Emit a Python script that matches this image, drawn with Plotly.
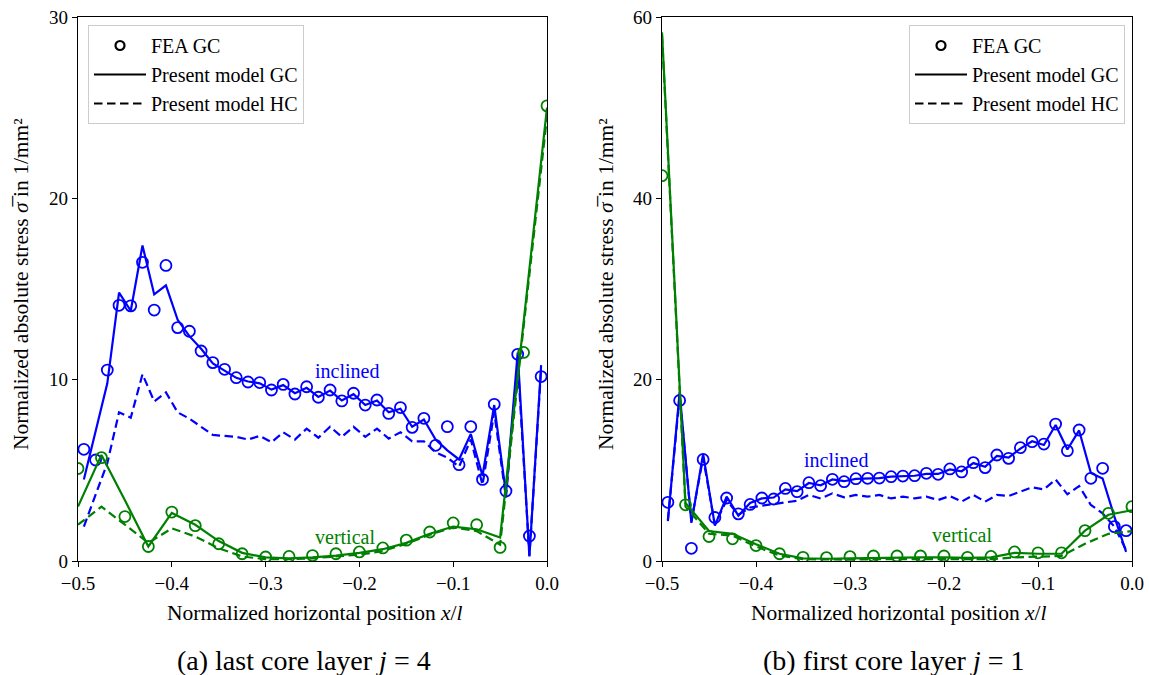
import plotly.graph_objects as go

# ---------------- data ----------------
x_fine = [-0.49375, -0.48125, -0.46875, -0.45625, -0.44375, -0.43125, -0.41875, -0.40625,
          -0.39375, -0.38125, -0.36875, -0.35625, -0.34375, -0.33125, -0.31875, -0.30625,
          -0.29375, -0.28125, -0.26875, -0.25625, -0.24375, -0.23125, -0.21875, -0.20625,
          -0.19375, -0.18125, -0.16875, -0.15625, -0.14375, -0.13125, -0.11875, -0.10625,
          -0.09375, -0.08125, -0.06875, -0.05625, -0.04375, -0.03125, -0.01875, -0.00625]
x_coarse = [-0.5, -0.475, -0.45, -0.425, -0.4, -0.375, -0.35, -0.325, -0.3, -0.275, -0.25,
            -0.225, -0.2, -0.175, -0.15, -0.125, -0.1, -0.075, -0.05, -0.025, 0.0]

# (a) last core layer j = 4
fea_inc_a = [6.16, 5.57, 10.53, 14.1, 14.07, 16.47, 13.84, 16.3, 12.87, 12.67, 11.58, 10.94,
             10.57, 10.11, 9.87, 9.84, 9.43, 9.74, 9.21, 9.61, 9.03, 9.43, 8.83, 9.25, 8.6,
             8.88, 8.14, 8.46, 7.37, 7.87, 6.38, 7.41, 5.31, 7.41, 4.5, 8.64, 3.86, 11.4, 1.38, 10.17]
gc_inc_a = [4.5, 7.1, 9.8, 14.8, 13.8, 17.4, 14.7, 15.2, 13.3, 12.4, 11.7, 10.9, 10.5, 10.1,
            9.9, 9.8, 9.45, 9.7, 9.25, 9.55, 9.05, 9.4, 8.85, 9.2, 8.6, 8.85, 8.2, 8.4, 7.4,
            7.8, 6.7, 6.1, 5.6, 7.0, 4.7, 8.6, 3.7, 11.5, 0.25, 10.8]
hc_inc_a = [1.9, 3.6, 5.4, 8.2, 7.9, 10.3, 8.8, 9.3, 8.2, 7.85, 7.4, 6.95, 6.9, 6.85, 6.7,
            6.9, 6.55, 7.1, 6.7, 7.3, 6.8, 7.4, 6.85, 7.4, 6.85, 7.3, 6.75, 7.1, 6.6, 6.6,
            6.0, 5.7, 5.2, 6.7, 4.2, 8.2, 3.5, 11.0, 0.3, 10.6]
fea_vert_a = [5.1, 5.7, 2.45, 0.8, 2.7, 1.95, 0.95, 0.4, 0.22, 0.25, 0.3, 0.4, 0.5, 0.72,
              1.15, 1.6, 2.1, 2.0, 0.75, 11.5, 25.1]
gc_vert_a = [3.0, 5.85, 3.35, 0.8, 2.65, 2.0, 1.1, 0.45, 0.2, 0.15, 0.2, 0.3, 0.45, 0.65,
             1.0, 1.5, 1.9, 1.75, 1.3, 13.2, 25.0]
hc_vert_a = [2.0, 3.0, 2.0, 1.0, 1.8, 1.35, 0.7, 0.25, 0.1, 0.1, 0.15, 0.25, 0.35, 0.55,
             0.95, 1.45, 1.85, 1.65, 0.9, 12.9, 24.5]

# (b) first core layer j = 1
fea_inc_b = [6.47, 17.7, 1.4, 11.2, 4.8, 6.95, 5.2, 6.24, 6.95, 6.84, 8.0, 7.65, 8.64, 8.31,
             9.01, 8.75, 9.08, 9.12, 9.15, 9.3, 9.37, 9.41, 9.67, 9.56, 10.15, 9.82, 10.85,
             10.3, 11.69, 11.32, 12.5, 13.16, 12.9, 15.1, 12.17, 14.45, 9.12, 10.22, 3.79, 3.35]
gc_inc_b = [4.4, 18.6, 4.2, 11.8, 3.9, 7.1, 5.0, 6.4, 6.9, 7.0, 7.9, 7.7, 8.6, 8.35, 9.0,
            8.8, 9.05, 9.1, 9.15, 9.3, 9.35, 9.4, 9.6, 9.6, 10.1, 9.9, 10.8, 10.4, 11.6,
            11.4, 12.4, 13.2, 12.8, 15.0, 12.3, 14.4, 9.7, 9.1, 4.9, 1.0]
hc_inc_b = [4.5, 18.2, 4.4, 11.4, 4.0, 6.7, 5.1, 5.9, 6.1, 6.3, 6.5, 6.65, 7.28, 6.9, 7.46,
            7.02, 7.28, 7.1, 7.28, 6.9, 7.1, 6.9, 7.1, 6.73, 7.17, 6.55, 7.28, 6.55, 7.28,
            7.17, 7.65, 8.12, 7.9, 9.0, 7.35, 8.27, 6.18, 5.26, 3.79, 1.21]
fea_vert_b = [42.5, 6.2, 2.7, 2.45, 1.7, 0.8, 0.4, 0.37, 0.48, 0.55, 0.55, 0.55, 0.55, 0.4,
              0.5, 1.0, 0.9, 0.9, 3.35, 5.26, 6.0]
gc_vert_b = [58.3, 6.4, 3.3, 3.0, 1.85, 0.8, 0.3, 0.25, 0.3, 0.35, 0.4, 0.4, 0.4, 0.35, 0.4,
             0.9, 0.8, 0.8, 3.35, 5.1, 5.6]
hc_vert_b = [58.0, 6.0, 3.0, 2.8, 1.6, 0.6, 0.2, 0.15, 0.15, 0.2, 0.2, 0.2, 0.2, 0.15, 0.2,
             0.4, 0.45, 0.55, 1.9, 3.0, 3.3]

x_ticks = [-0.5, -0.4, -0.3, -0.2, -0.1, 0.0]
x_ticktext = ["\u22120.5", "\u22120.4", "\u22120.3", "\u22120.2", "\u22120.1", "0.0"]
y_ticks_a = [0, 10, 20, 30]
y_ticks_b = [0, 20, 40, 60]

# ---------------- style ----------------
FONT = "Liberation Serif"
BLUE = "#0000ff"
GREEN = "#008000"
LW = 2.2
DASH = "8.5px,4.5px"
MS = 11

fig = go.Figure()


def add_panel(xa, ya, fea_i, gc_i, hc_i, fea_v, gc_v, hc_v):
    for xs, ys, col, kind in [
        (x_fine, hc_i, BLUE, "hc"), (x_fine, gc_i, BLUE, "gc"), (x_fine, fea_i, BLUE, "fea"),
        (x_coarse, hc_v, GREEN, "hc"), (x_coarse, gc_v, GREEN, "gc"), (x_coarse, fea_v, GREEN, "fea"),
    ]:
        if kind == "fea":
            fig.add_trace(go.Scatter(x=xs, y=ys, mode="markers", xaxis=xa, yaxis=ya,
                                     marker=dict(symbol="circle-open", size=MS, color=col,
                                                 line=dict(width=1.8, color=col)),
                                     showlegend=False, hoverinfo="skip"))
        else:
            fig.add_trace(go.Scatter(x=xs, y=ys, mode="lines", xaxis=xa, yaxis=ya,
                                     line=dict(color=col, width=LW,
                                               dash=DASH if kind == "hc" else "solid"),
                                     showlegend=False, hoverinfo="skip"))


add_panel("x", "y", fea_inc_a, gc_inc_a, hc_inc_a, fea_vert_a, gc_vert_a, hc_vert_a)
add_panel("x2", "y2", fea_inc_b, gc_inc_b, hc_inc_b, fea_vert_b, gc_vert_b, hc_vert_b)

# legend entries (one legend per panel)
for lg, xa, ya in [("legend", "x", "y"), ("legend2", "x2", "y2")]:
    fig.add_trace(go.Scatter(x=[None], y=[None], mode="markers", name="FEA GC", legend=lg,
                             xaxis=xa, yaxis=ya,
                             marker=dict(symbol="circle-open", size=9, color="black",
                                         line=dict(width=2.2, color="black"))))
    fig.add_trace(go.Scatter(x=[None], y=[None], mode="lines", name="Present model GC",
                             legend=lg, xaxis=xa, yaxis=ya,
                             line=dict(color="black", width=LW)))
    fig.add_trace(go.Scatter(x=[None], y=[None], mode="lines", name="Present model HC",
                             legend=lg, xaxis=xa, yaxis=ya,
                             line=dict(color="black", width=LW, dash=DASH)))

W, H = 1149, 675


def px(xp):
    return xp / W


def py(yp):
    return 1 - yp / H


axis_common = dict(showgrid=False, zeroline=False, showline=True, linecolor="black",
                   linewidth=1.2, mirror=True, ticks="outside", ticklen=5, tickwidth=1.2,
                   tickcolor="black", automargin=False,
                   tickfont=dict(family=FONT, size=19, color="black"))

legend_common = dict(bordercolor="#cccccc", borderwidth=1, bgcolor="rgba(255,255,255,0.85)",
                     font=dict(family=FONT, size=20, color="black"), yanchor="top",
                     tracegroupgap=0, itemwidth=52)

fig.update_layout(
    width=W, height=H,
    margin=dict(l=0, r=0, t=0, b=0, autoexpand=False),
    paper_bgcolor="white", plot_bgcolor="white",
    font=dict(family=FONT, color="black"),
    xaxis=dict(domain=[px(78), px(547)], range=[-0.5, 0.0], tickvals=x_ticks,
               ticktext=x_ticktext, anchor="y", **axis_common),
    yaxis=dict(domain=[py(561), py(17)], range=[0, 30], tickvals=y_ticks_a, anchor="x",
               **axis_common),
    xaxis2=dict(domain=[px(662), px(1132)], range=[-0.5, 0.0], tickvals=x_ticks,
                ticktext=x_ticktext, anchor="y2", **axis_common),
    yaxis2=dict(domain=[py(561), py(17)], range=[0, 60], tickvals=y_ticks_b, anchor="x2",
                **axis_common),
    legend=dict(x=px(88), y=py(25), xanchor="left", **legend_common),
    legend2=dict(x=px(1125), y=py(25), xanchor="right", **legend_common),
)

ann_font = dict(family=FONT, size=21.5, color="black")
ytitle = "Normalized absolute stress <i>\u03c3\u0305</i> in 1/mm\u00b2"
center = dict(xanchor="center", yanchor="middle", showarrow=False)
annotations = [
    dict(text="Normalized horizontal position <i>x</i>/<i>l</i>", x=px(315), y=py(613),
         xref="paper", yref="paper", font=ann_font, **center),
    dict(text="Normalized horizontal position <i>x</i>/<i>l</i>", x=px(899), y=py(613),
         xref="paper", yref="paper", font=ann_font, **center),
    dict(text=ytitle, x=px(21), y=py(284), xref="paper", yref="paper",
         textangle=-90, font=ann_font, **center),
    dict(text=ytitle, x=px(606), y=py(284), xref="paper", yref="paper",
         textangle=-90, font=ann_font, **center),
    dict(text="(a) last core layer <i>j</i> = 4", x=px(304), y=py(660), xref="paper",
         yref="paper", font=dict(family=FONT, size=28, color="black"), **center),
    dict(text="(b) first core layer <i>j</i> = 1", x=px(893), y=py(660), xref="paper",
         yref="paper", font=dict(family=FONT, size=28, color="black"), **center),
    dict(text="inclined", x=-0.213, y=10.5, xref="x", yref="y",
         font=dict(family=FONT, size=20, color=BLUE), **center),
    dict(text="vertical", x=-0.215, y=1.3, xref="x", yref="y",
         font=dict(family=FONT, size=20, color=GREEN), **center),
    dict(text="inclined", x=-0.315, y=11.1, xref="x2", yref="y2",
         font=dict(family=FONT, size=20, color=BLUE), **center),
    dict(text="vertical", x=-0.181, y=2.9, xref="x2", yref="y2",
         font=dict(family=FONT, size=20, color=GREEN), **center),
]
fig.update_layout(annotations=annotations)

fig.write_html("out.html", config={"displayModeBar": False},
               post_script="document.body.style.margin='0';document.body.style.padding='0';")
